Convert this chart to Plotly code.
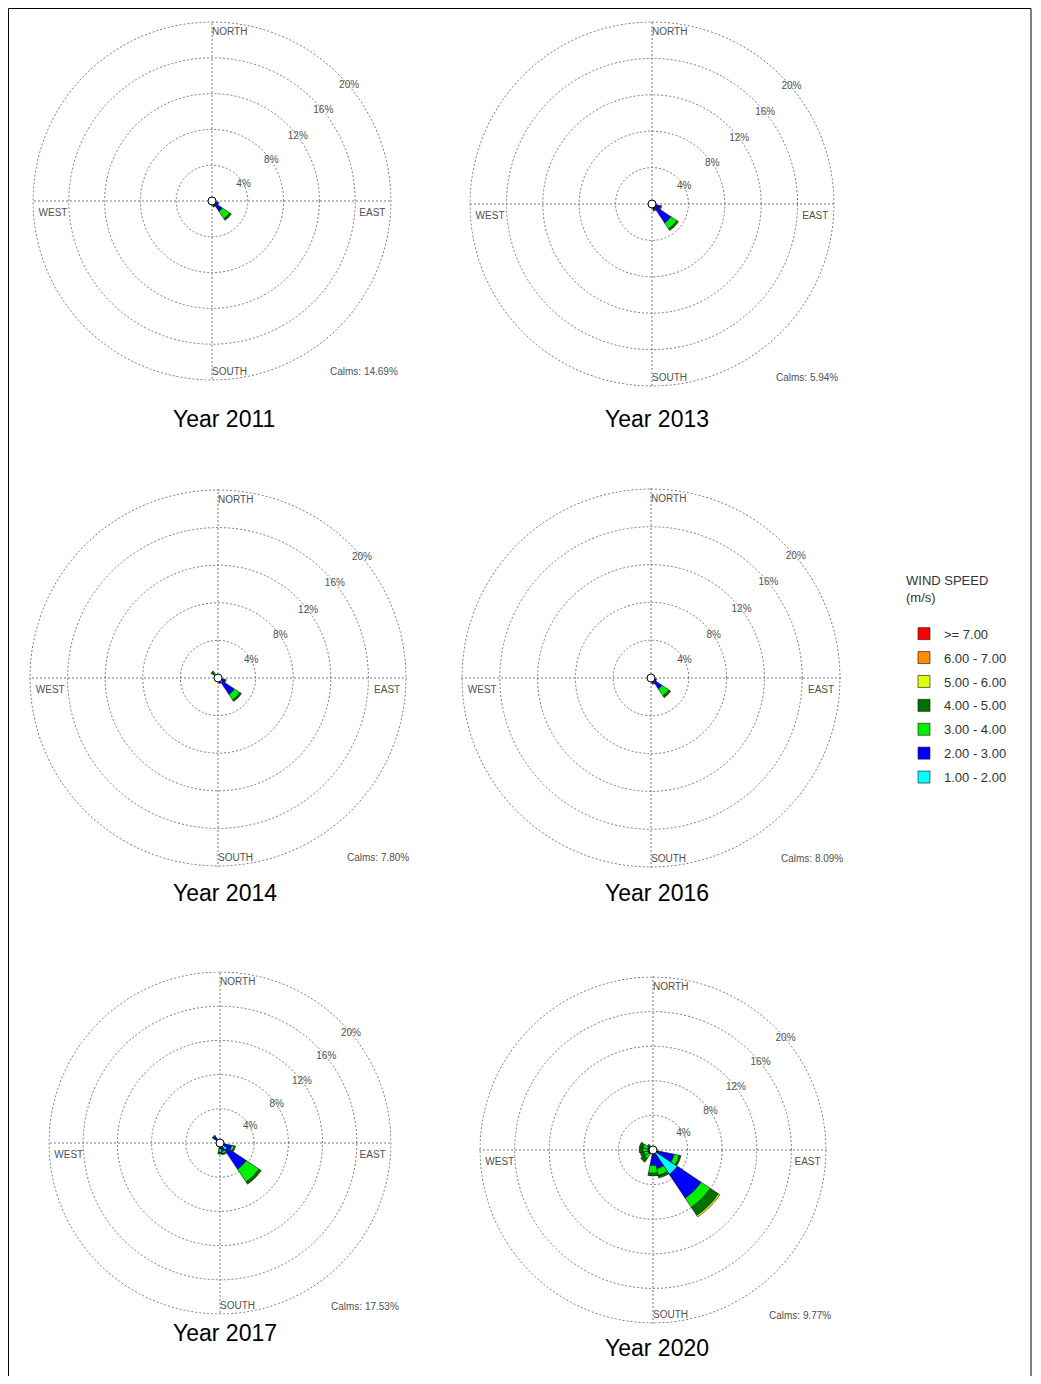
import plotly.graph_objects as go

# ---------------- data ----------------
DIRECTIONS = ["N", "NNE", "NE", "ENE", "E", "ESE", "SE", "SSE",
              "S", "SSW", "SW", "WSW", "W", "WNW", "NW", "NNW"]
SPEED_BINS = ["1.00 - 2.00", "2.00 - 3.00", "3.00 - 4.00", "4.00 - 5.00",
              "5.00 - 6.00", "6.00 - 7.00", ">= 7.00"]
BIN_COLORS = ["#00FFFF", "#0000FF", "#00F000", "#007000",
              "#DFFF00", "#FF8C00", "#FF0000"]
YEARS = ["2011", "2013", "2014", "2016", "2017", "2020"]
CALMS = [14.69, 5.94, 7.80, 8.09, 17.53, 9.77]
RING_TICKS = [4, 8, 12, 16, 20]
RING_LABELS = ["4%", "8%", "12%", "16%", "20%"]
COMPASS_LABELS = ["NORTH", "EAST", "SOUTH", "WEST"]

# frequency (%) per direction; values per speed bin in SPEED_BINS order
FREQ_2011 = {
    "E":   [0.1, 0.2, 0.0, 0.0, 0.0, 0.0, 0.0],
    "ESE": [0.2, 0.5, 0.1, 0.0, 0.0, 0.0, 0.0],
    "SE":  [0.3, 1.1, 1.0, 0.2, 0.0, 0.0, 0.0],
    "SSE": [0.2, 0.4, 0.1, 0.0, 0.0, 0.0, 0.0],
    "S":   [0.1, 0.2, 0.0, 0.0, 0.0, 0.0, 0.0],
}
FREQ_2013 = {
    "ESE": [0.3, 0.7, 0.1, 0.0, 0.0, 0.0, 0.0],
    "SE":  [0.4, 2.1, 0.8, 0.2, 0.0, 0.0, 0.0],
    "SSE": [0.2, 0.5, 0.1, 0.0, 0.0, 0.0, 0.0],
    "W":   [0.1, 0.1, 0.1, 0.1, 0.0, 0.0, 0.0],
    "WNW": [0.1, 0.1, 0.1, 0.1, 0.0, 0.0, 0.0],
}
FREQ_2014 = {
    "ESE": [0.3, 0.5, 0.1, 0.0, 0.0, 0.0, 0.0],
    "SE":  [0.6, 1.5, 0.7, 0.2, 0.0, 0.0, 0.0],
    "SSE": [0.2, 0.4, 0.0, 0.0, 0.0, 0.0, 0.0],
    "NW":  [0.1, 0.2, 0.3, 0.3, 0.0, 0.0, 0.0],
}
FREQ_2016 = {
    "ESE": [0.2, 0.4, 0.0, 0.0, 0.0, 0.0, 0.0],
    "SE":  [0.3, 1.1, 0.9, 0.2, 0.0, 0.0, 0.0],
    "SSE": [0.2, 0.4, 0.1, 0.0, 0.0, 0.0, 0.0],
}
FREQ_2017 = {
    "ESE": [0.5, 0.9, 0.3, 0.15, 0.0, 0.0, 0.0],
    "SE":  [1.0, 2.7, 1.8, 0.3, 0.0, 0.0, 0.0],
    "SSE": [0.4, 0.6, 0.3, 0.1, 0.0, 0.0, 0.0],
    "S":   [0.3, 0.4, 0.4, 0.2, 0.0, 0.0, 0.0],
    "NW":  [0.3, 0.6, 0.1, 0.1, 0.0, 0.0, 0.0],
}
FREQ_2020 = {
    "ESE": [0.5, 2.0, 0.6, 0.2, 0.0, 0.0, 0.0],
    "SE":  [3.4, 3.3, 1.3, 1.1, 0.2, 0.0, 0.0],
    "SSE": [0.6, 1.6, 0.8, 0.3, 0.0, 0.0, 0.0],
    "S":   [0.5, 1.3, 0.9, 0.3, 0.0, 0.0, 0.0],
    "SW":  [0.2, 0.4, 0.6, 0.5, 0.0, 0.0, 0.0],
    "WSW": [0.2, 0.4, 0.5, 0.4, 0.0, 0.0, 0.0],
    "W":   [0.2, 0.4, 0.6, 0.4, 0.0, 0.0, 0.0],
    "WNW": [0.2, 0.4, 0.6, 0.4, 0.0, 0.0, 0.0],
    "NW":  [0.1, 0.2, 0.3, 0.2, 0.0, 0.0, 0.0],
}
FREQS = [FREQ_2011, FREQ_2013, FREQ_2014, FREQ_2016, FREQ_2017, FREQ_2020]

# ---------------- layout geometry ----------------
PAGE_OFF = 8                 # browser body margin
W, H = 1025, 1368            # figure size
# page pixels: (centre x, centre y, radius, year-label x, year-label y)
PANELS = [(212, 201, 179, 224, 419), (652, 204, 182, 657, 419),
          (218, 678, 188, 225, 893), (651, 678, 189, 657, 893),
          (220, 1143, 171, 225, 1333), (653, 1150, 173, 657, 1348)]
RMAX = 20.1
SECTOR = 360 / len(DIRECTIONS)
DIR_DEG = {d: i * SECTOR for i, d in enumerate(DIRECTIONS)}
RING_LABEL_THETA = [62, 56, 53, 51, 50]
COMPASS_R = [19.4, 19.4, 19.75, 19.4]
COMPASS_THETA = [0, 92.5, 180, 267.5]
FONT = "Liberation Sans, Arial, sans-serif"
GRID = "#7a7a7a"
GRID_DASH = "2px,2px"
LABEL_COLOR = "#505050"


def px(x):
    return (x - PAGE_OFF) / W


def py(y):
    return 1 - (y - PAGE_OFF) / H


fig = go.Figure()
annotations = []
layout_polars = {}
ring_theta = list(range(0, 361, 2))

for k, (year, freq, calm, (cx, cy, r, lx, ly)) in enumerate(zip(YEARS, FREQS, CALMS, PANELS)):
    name = "polar" if k == 0 else f"polar{k + 1}"
    rd = r * RMAX / 20
    layout_polars[name] = dict(
        domain=dict(x=[px(cx - rd), px(cx + rd)], y=[py(cy + rd), py(cy - rd)]),
        bgcolor="white",
        barmode="stack",
        angularaxis=dict(direction="clockwise", rotation=90,
                         tickmode="array", tickvals=[0, 90, 180, 270],
                         showticklabels=False, ticks="", showline=False,
                         showgrid=True, gridcolor=GRID, gridwidth=1, griddash=GRID_DASH),
        radialaxis=dict(range=[0, RMAX], tickmode="array", tickvals=RING_TICKS,
                        showticklabels=False, ticks="", showline=False,
                        showgrid=True, gridcolor=GRID, gridwidth=1, griddash=GRID_DASH),
    )
    # outer ring (the axis drops the gridline at the edge)
    fig.add_trace(go.Scatterpolar(
        r=[RING_TICKS[-1]] * len(ring_theta), theta=ring_theta, mode="lines",
        subplot=name, showlegend=False, cliponaxis=False,
        line=dict(color=GRID, width=1, dash=GRID_DASH), hoverinfo="skip"))
    for b, (bin_name, color) in enumerate(zip(SPEED_BINS, BIN_COLORS)):
        rs, ths = [], []
        for d in DIRECTIONS:
            v = freq.get(d, [0] * len(SPEED_BINS))[b]
            if v > 0:
                rs.append(v)
                ths.append(DIR_DEG[d])
        if not rs:
            rs, ths = [0.0], [0.0]
        fig.add_trace(go.Barpolar(
            r=rs, theta=ths, width=SECTOR, subplot=name,
            name=bin_name, legendgroup=bin_name, showlegend=(k == 0),
            legendrank=len(SPEED_BINS) - b,
            marker=dict(color=color, line=dict(color="#111111", width=0.6)),
            hoverinfo="skip"))
    # calm circle
    fig.add_trace(go.Scatterpolar(
        r=[0], theta=[0], mode="markers", subplot=name, showlegend=False,
        marker=dict(size=8, color="white", line=dict(color="black", width=1)),
        hoverinfo="skip"))
    # ring labels
    fig.add_trace(go.Scatterpolar(
        r=RING_TICKS, theta=RING_LABEL_THETA, text=RING_LABELS, mode="text",
        subplot=name, showlegend=False, cliponaxis=False,
        textfont=dict(family=FONT, size=10, color=LABEL_COLOR), hoverinfo="skip"))
    # compass labels
    fig.add_trace(go.Scatterpolar(
        r=COMPASS_R, theta=COMPASS_THETA, text=COMPASS_LABELS,
        mode="text", subplot=name, showlegend=False, cliponaxis=False,
        textposition=["bottom right", "bottom left", "top right", "bottom right"],
        textfont=dict(family=FONT, size=10, color=LABEL_COLOR), hoverinfo="skip"))
    annotations.append(dict(
        text=f"Calms: {calm:.2f}%", xref="paper", yref="paper",
        x=px(cx + 0.85 * r), y=py(cy + 0.955 * r),
        xanchor="center", yanchor="middle", showarrow=False,
        font=dict(family=FONT, size=10, color=LABEL_COLOR)))
    annotations.append(dict(
        text=f"Year {year}", xref="paper", yref="paper",
        x=px(lx), y=py(ly), xanchor="center", yanchor="middle",
        showarrow=False, font=dict(family=FONT, size=23, color="black")))

fig.update_layout(
    width=W, height=H, margin=dict(l=0, r=0, t=0, b=0),
    paper_bgcolor="white", plot_bgcolor="white",
    annotations=annotations,
    legend=dict(x=px(904), y=py(568), xanchor="left", yanchor="top",
                traceorder="grouped", tracegroupgap=4,
                title=dict(text="WIND SPEED<br>(m/s)<br> ",
                           font=dict(family=FONT, size=13, color="#333333")),
                font=dict(family=FONT, size=13, color="#333333"),
                bgcolor="rgba(0,0,0,0)"),
    shapes=[dict(type="rect", xref="paper", yref="paper",
                 x0=0.5 / W, x1=px(1031), y0=-0.02, y1=1 - 0.5 / H,
                 line=dict(color="black", width=1))],
    **layout_polars,
)

fig.write_html("out.html")
